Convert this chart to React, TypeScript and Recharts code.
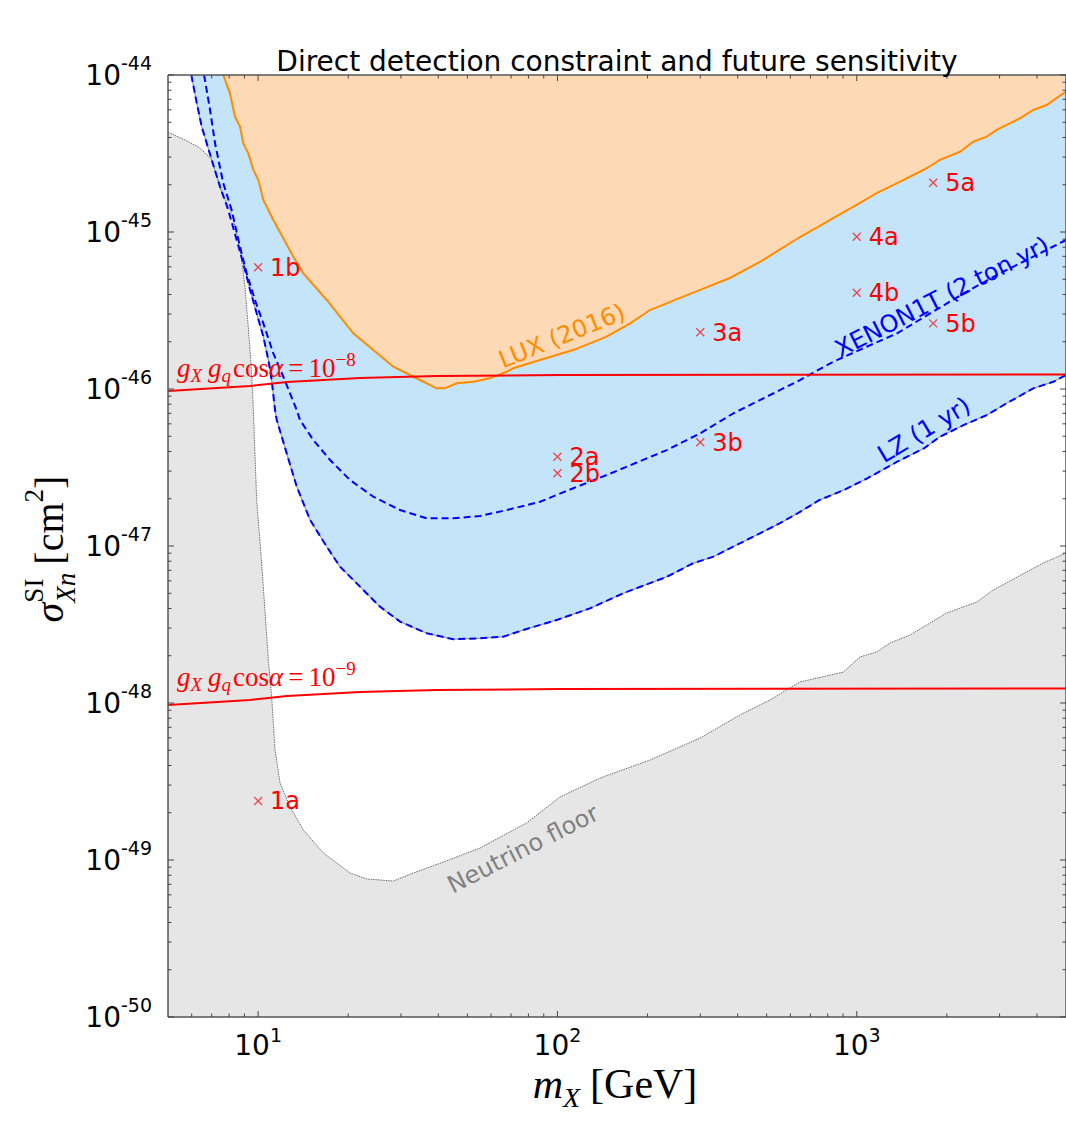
import React from 'react';
import { ComposedChart, XAxis, YAxis, Area, Line, Scatter, ReferenceLine } from 'recharts';

const W = 1066;
const H = 1123;
const PLOT_W = 898;
const PLOT_H = 942;

// ---------- data (x: m_X in GeV, log10 of sigma in cm^2) ----------
const NEUTRINO_X = [5, 5.08, 5.7, 6.4, 7.0, 7.56, 8.16, 8.59, 8.81, 9.04, 9.27, 9.45, 9.59, 9.89, 10.3, 10.82, 11.1, 11.39, 11.84, 12.79, 14.16, 16.51, 20.28, 23.06, 28.3, 33.0, 41.6, 55.1, 78.9, 102, 138.8, 204, 300, 407, 513, 646, 901, 1025, 1166, 1291, 1506, 1997, 2515, 2858, 4200, 5000];
const NEUTRINO_LOG = [-44.369, -44.37, -44.414, -44.465, -44.541, -44.752, -44.879, -45.051, -45.178, -45.35, -45.605, -45.815, -46.025, -46.707, -47.134, -47.726, -47.962, -48.299, -48.51, -48.662, -48.809, -48.955, -49.083, -49.121, -49.134, -49.083, -49.013, -48.924, -48.764, -48.599, -48.478, -48.363, -48.223, -48.076, -47.981, -47.866, -47.803, -47.707, -47.675, -47.618, -47.567, -47.427, -47.357, -47.28, -47.108, -47.045];

const LUX_X = [7.65, 8.05, 8.37, 8.7, 8.92, 9.27, 9.64, 10.02, 10.41, 11.24, 13.11, 14.16, 16.95, 20.8, 28.3, 33.0, 39.5, 42.1, 46.1, 52.4, 59.5, 67.7, 71.2, 87.5, 113, 146, 175, 204, 257, 300, 377, 475, 646, 751, 835, 999, 1166, 1359, 1506, 1712, 1897, 2213, 2451, 2718, 2935, 3510, 3889, 4311, 5000];
const LUX_LOG = [-44.0, -44.117, -44.266, -44.329, -44.435, -44.499, -44.605, -44.669, -44.796, -44.924, -45.157, -45.263, -45.433, -45.645, -45.858, -45.922, -45.996, -45.996, -45.964, -45.954, -45.932, -45.89, -45.868, -45.815, -45.752, -45.667, -45.582, -45.497, -45.42, -45.369, -45.293, -45.191, -45.032, -44.962, -44.911, -44.828, -44.753, -44.69, -44.648, -44.594, -44.541, -44.489, -44.425, -44.393, -44.35, -44.276, -44.223, -44.191, -44.106];

const LZ_X = [5.98, 6.24, 6.48, 7.0, 7.46, 7.95, 8.48, 8.92, 9.4, 9.89, 10.41, 10.82, 11.1, 11.39, 11.54, 12.46, 13.46, 14.91, 16.95, 18.78, 21.35, 25.55, 29.8, 36.6, 44.9, 55.1, 65.9, 76.9, 99.5, 128.5, 166, 232, 284, 332, 407, 475, 554, 646, 751, 907, 1084, 1365, 1677, 1897, 2281, 2718, 3169, 3889, 4536, 5000];
const LZ_LOG = [-44.0, -44.18, -44.329, -44.541, -44.711, -44.86, -45.051, -45.199, -45.369, -45.518, -45.667, -45.815, -45.943, -46.134, -46.197, -46.41, -46.622, -46.834, -47.004, -47.132, -47.238, -47.387, -47.482, -47.556, -47.594, -47.588, -47.578, -47.535, -47.471, -47.397, -47.301, -47.196, -47.11, -47.068, -46.983, -46.919, -46.855, -46.783, -46.707, -46.643, -46.569, -46.463, -46.378, -46.304, -46.229, -46.166, -46.091, -45.996, -45.954, -45.911];

const XENON_X = [6.6, 6.91, 7.18, 7.65, 8.16, 8.7, 9.16, 9.76, 10.41, 11.24, 12.14, 13.46, 13.8, 15.29, 17.39, 20.28, 24.26, 29.8, 36.6, 44.9, 55.1, 67.7, 87.5, 113, 146, 181.6, 232, 300, 387, 500, 646, 835, 1079, 1365, 1761, 2281, 3010, 3889, 5000];
const XENON_LOG = [-44.0, -44.223, -44.435, -44.69, -44.86, -45.094, -45.263, -45.433, -45.582, -45.773, -45.922, -46.134, -46.197, -46.325, -46.452, -46.58, -46.686, -46.771, -46.824, -46.824, -46.809, -46.771, -46.718, -46.632, -46.548, -46.473, -46.389, -46.282, -46.155, -46.049, -45.943, -45.826, -45.731, -45.645, -45.518, -45.39, -45.263, -45.157, -45.051];

const COUPLING_X = [5, 9.4, 12.5, 21.9, 39.4, 102, 5000];
const COUPLING_1E8_LOG = [-46.013, -45.981, -45.955, -45.93, -45.917, -45.911, -45.908];
const COUPLING_1E9_LOG = [-48.013, -47.981, -47.955, -47.93, -47.917, -47.911, -47.908];

const BENCH_NAMES = ['1a', '1b', '2a', '2b', '3a', '3b', '4a', '4b', '5a', '5b'];
const BENCH_X = [10, 10, 100, 100, 300, 300, 1000, 1000, 1800, 1800];
const BENCH_LOG = [-48.624, -45.225, -46.431, -46.537, -45.639, -46.339, -45.03, -45.387, -44.686, -45.582];

const X_MAJOR_TICKS = [10, 100, 1000];
const X_MINOR_TICKS = [6, 7, 8, 9, 20, 30, 40, 50, 60, 70, 80, 90, 200, 300, 400, 500, 600, 700, 800, 900, 2000, 3000, 4000];
const Y_DECADES = [-50, -49, -48, -47, -46, -45, -44];
const Y_MINOR_MULT = [2, 3, 4, 5, 6, 7, 8, 9];

// ---------- tables built for the library ----------
const rows = (xs: number[], logs: number[]) => xs.map((x, i) => ({ x, y: Math.pow(10, logs[i]) }));
const neutrinoData = rows(NEUTRINO_X, NEUTRINO_LOG);
const luxData = rows(LUX_X, LUX_LOG);
const lzData = rows(LZ_X, LZ_LOG);
const xenonData = rows(XENON_X, XENON_LOG);
const c8Data = rows(COUPLING_X, COUPLING_1E8_LOG);
const c9Data = rows(COUPLING_X, COUPLING_1E9_LOG);
const benchData = BENCH_NAMES.map((name, i) => ({ name, x: BENCH_X[i], y: Math.pow(10, BENCH_LOG[i]) }));

const X_TICKS = [...X_MAJOR_TICKS, ...X_MINOR_TICKS].sort((a, b) => a - b);
const Y_TICKS = [
  ...Y_DECADES.map((d) => Math.pow(10, d)),
  ...Y_DECADES.slice(0, -1).flatMap((d) => Y_MINOR_MULT.map((k) => k * Math.pow(10, d))),
].sort((a, b) => a - b);

const isMajor = (v: number) => {
  const e = Math.log10(v);
  return Math.abs(e - Math.round(e)) < 1e-6;
};

const TICK_COLOR = '#444';
const SANS = 'DejaVu Sans, sans-serif';
const SERIF = 'Liberation Serif, DejaVu Serif, serif';

const XTick = (props: any) => {
  const { x, y, payload } = props;
  const v = payload.value;
  const major = isMajor(v);
  const len = major ? 6 : 3.5;
  return (
    <g>
      <line x1={x} x2={x} y1={y} y2={y - len} stroke={TICK_COLOR} strokeWidth={1} />
      <line x1={x} x2={x} y1={y - PLOT_H} y2={y - PLOT_H + len} stroke={TICK_COLOR} strokeWidth={1} />
      {major && (
        <text x={x} y={y + 38} textAnchor="middle" fontFamily={SANS} fontSize={28} fill="#000">
          10
          <tspan dy={-13} fontSize={19}>{String(Math.round(Math.log10(v)))}</tspan>
        </text>
      )}
    </g>
  );
};

const YTick = (props: any) => {
  const { x, y, payload } = props;
  const v = payload.value;
  const major = isMajor(v);
  const len = major ? 6 : 3.5;
  return (
    <g>
      <line x1={x} x2={x + len} y1={y} y2={y} stroke={TICK_COLOR} strokeWidth={1} />
      <line x1={x + PLOT_W} x2={x + PLOT_W - len} y1={y} y2={y} stroke={TICK_COLOR} strokeWidth={1} />
      {major && (
        <text x={x - 16} y={y + 10} textAnchor="end" fontFamily={SANS} fontSize={28} fill="#000">
          10
          <tspan dy={-15} fontSize={19}>{String(Math.round(Math.log10(v)))}</tspan>
        </text>
      )}
    </g>
  );
};

const BenchShape = (props: any) => {
  const { cx, cy, payload } = props;
  if (cx == null || cy == null) return null;
  const s = 4;
  return (
    <g>
      <path
        d={`M${cx - s},${cy - s}L${cx + s},${cy + s}M${cx - s},${cy + s}L${cx + s},${cy - s}`}
        stroke="#ff0000"
        strokeOpacity={0.7}
        strokeWidth={1.3}
      />
      <text x={cx + 12} y={cy + 8.5} fontFamily={SANS} fontSize={24} fill="#ff0000">
        {payload.name}
      </text>
    </g>
  );
};

const CouplingLabel = ({ x, y, exp }: { x: number; y: number; exp: string }) => (
  <text x={x} y={y} fontFamily={SERIF} fontSize={27} fill="#ff0000">
    <tspan fontStyle="italic">g</tspan>
    <tspan fontStyle="italic" fontSize={19} dy={5}>X</tspan>
    <tspan fontStyle="italic" dy={-5} dx={6}>g</tspan>
    <tspan fontStyle="italic" fontSize={19} dy={5}>q</tspan>
    <tspan dy={-5} dx={2}>cos</tspan>
    <tspan fontStyle="italic">α</tspan>
    <tspan dx={5}>=</tspan>
    <tspan dx={5}>10</tspan>
    <tspan fontSize={19} dy={-11}>{exp}</tspan>
  </text>
);

export default function App() {
  return (
    <div style={{ position: 'absolute', left: 0, top: 0, width: W, height: H, background: '#fff' }}>
      <ComposedChart width={W} height={H} margin={{ top: 75, right: 0, bottom: 6, left: 8 }}>
        <XAxis
          type="number"
          dataKey="x"
          scale="log"
          domain={[5, 5000]}
          allowDataOverflow
          ticks={X_TICKS}
          interval={0}
          tick={(p: any) => <XTick {...p} />}
          tickLine={false}
          tickSize={0}
          tickMargin={0}
          height={100}
          axisLine={{ stroke: '#555', strokeWidth: 1.5 }}
        />
        <YAxis
          type="number"
          dataKey="y"
          scale="log"
          domain={[1e-50, 1e-44]}
          allowDataOverflow
          ticks={Y_TICKS}
          interval={0}
          tick={(p: any) => <YTick {...p} />}
          tickLine={false}
          tickSize={0}
          tickMargin={0}
          width={160}
          axisLine={{ stroke: '#555', strokeWidth: 1.5 }}
        />
        <Area
          data={lzData}
          dataKey="y"
          type="linear"
          baseValue="dataMax"
          fill="#c3e4f9"
          fillOpacity={1}
          stroke="#888888"
          strokeWidth={1}
          dot={false}
          activeDot={false}
          isAnimationActive={false}
        />
        <Area
          data={luxData}
          dataKey="y"
          type="linear"
          baseValue="dataMax"
          fill="#fdd9b5"
          fillOpacity={1}
          stroke="#ff8c00"
          strokeWidth={2}
          dot={false}
          activeDot={false}
          isAnimationActive={false}
        />
        <Area
          data={neutrinoData}
          dataKey="y"
          type="linear"
          fill="#e6e6e6"
          fillOpacity={1}
          stroke="#6a6a6a"
          strokeWidth={1}
          strokeDasharray="1.5 1"
          dot={false}
          activeDot={false}
          isAnimationActive={false}
        />
        <Line data={lzData} dataKey="y" type="linear" stroke="#0000ff" strokeWidth={2} strokeDasharray="7 4" dot={false} activeDot={false} isAnimationActive={false} />
        <Line data={xenonData} dataKey="y" type="linear" stroke="#0000ff" strokeWidth={2} strokeDasharray="7 4" dot={false} activeDot={false} isAnimationActive={false} />
        <Line data={c8Data} dataKey="y" type="linear" stroke="#ff0000" strokeWidth={2} dot={false} activeDot={false} isAnimationActive={false} />
        <Line data={c9Data} dataKey="y" type="linear" stroke="#ff0000" strokeWidth={2} dot={false} activeDot={false} isAnimationActive={false} />
        <Scatter data={benchData} dataKey="y" shape={(p: any) => <BenchShape {...p} />} isAnimationActive={false} />
        <ReferenceLine y={1e-44} stroke="#555" strokeWidth={1.5} />
        <ReferenceLine x={5000} stroke="#555" strokeWidth={1.5} />
      </ComposedChart>
      <svg width={W} height={H} style={{ position: 'absolute', left: 0, top: 0, pointerEvents: 'none' }}>
        <text x={617} y={71} textAnchor="middle" fontFamily={SANS} fontSize={28} fill="#000">
          Direct detection constraint and future sensitivity
        </text>
        <text x={615} y={1098} textAnchor="middle" fontFamily={SERIF} fontSize={42} fill="#000">
          <tspan fontStyle="italic">m</tspan>
          <tspan fontStyle="italic" fontSize={28} dy={9}>X</tspan>
          <tspan dy={-9} dx={10}>[GeV]</tspan>
        </text>
        <text transform="translate(63,549) rotate(-90)" textAnchor="middle" fontFamily={SERIF} fontSize={40} fill="#000">
          <tspan fontStyle="italic">σ</tspan>
          <tspan fontSize={27} dy={-20}>SI</tspan>
          <tspan fontSize={27} fontStyle="italic" dx={-24} dy={32}>Xn</tspan>
          <tspan dy={-12} dx={8}>[cm</tspan>
          <tspan fontSize={27} dy={-20}>2</tspan>
          <tspan dy={20}>]</tspan>
        </text>
        <CouplingLabel x={177} y={377} exp="−8" />
        <CouplingLabel x={177} y={686} exp="−9" />
        <g transform="translate(562,336) rotate(-22)">
          <text x={0} y={8} textAnchor="middle" fontFamily={SANS} fontSize={24} fill="#ff8c00">LUX (2016)</text>
        </g>
        <g transform="translate(942,297) rotate(-27)">
          <text x={0} y={8} textAnchor="middle" fontFamily={SANS} fontSize={24} fill="#0000ff">XENON1T (2 ton yr)</text>
        </g>
        <g transform="translate(924,430) rotate(-31)">
          <text x={0} y={8} textAnchor="middle" fontFamily={SANS} fontSize={24} fill="#0000ff">LZ (1 yr)</text>
        </g>
        <g transform="translate(523,849) rotate(-27)">
          <text x={0} y={8} textAnchor="middle" fontFamily={SANS} fontSize={24} fill="#808080">Neutrino floor</text>
        </g>
      </svg>
    </div>
  );
}
